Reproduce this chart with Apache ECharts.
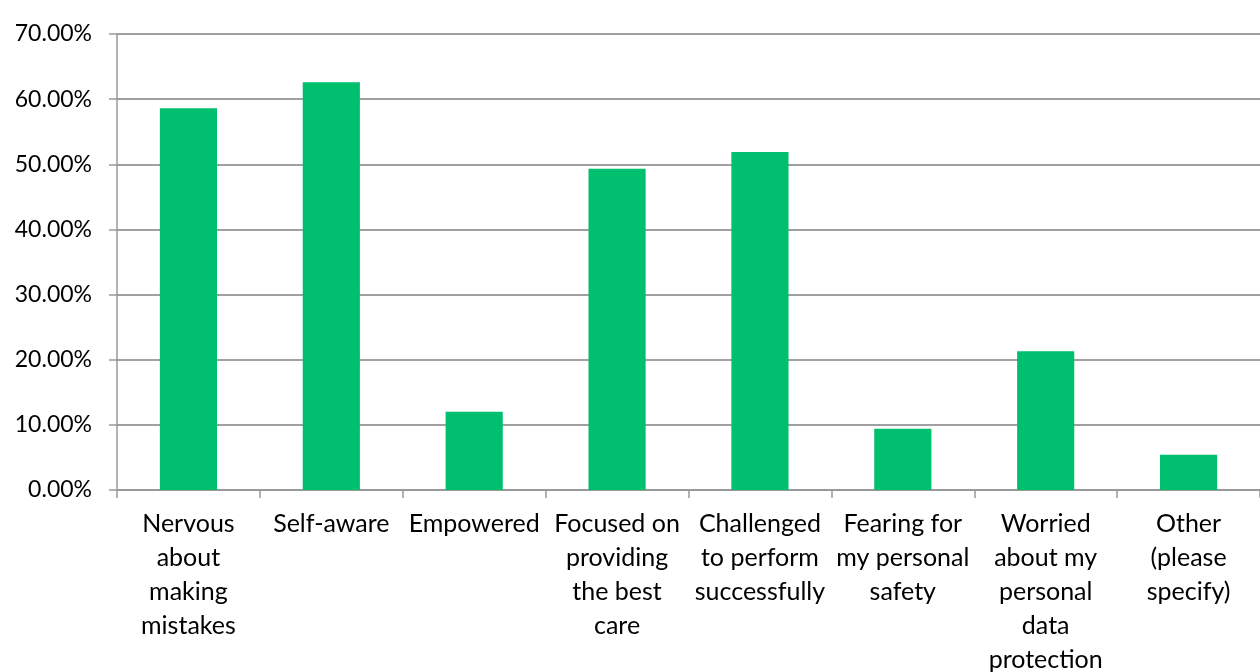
<!DOCTYPE html>
<html>
<head>
<meta charset="utf-8">
<script src="https://cdn.jsdelivr.net/npm/echarts@6/dist/echarts.min.js"></script>
<style>html,body{margin:0;padding:0;background:#fff}#c{width:1260px;height:672px}</style>
</head>
<body>
<div id="c"></div>
<script>
const categories = [
  "Nervous\nabout\nmaking\nmistakes",
  "Self-aware",
  "Empowered",
  "Focused on\nproviding\nthe best\ncare",
  "Challenged\nto perform\nsuccessfully",
  "Fearing for\nmy personal\nsafety",
  "Worried\nabout my\npersonal\ndata\nprotection",
  "Other\n(please\nspecify)"
];
const values = [0.586, 0.626, 0.120, 0.493, 0.519, 0.094, 0.213, 0.054];
const yTicks = [0, 0.1, 0.2, 0.3, 0.4, 0.5, 0.6, 0.7];

const chart = echarts.init(document.getElementById('c'), null, {renderer: 'canvas'});
const font = 'Lato, "Open Sans", sans-serif';
chart.setOption({
  animation: false,
  backgroundColor: '#ffffff',
  grid: {left: 117, right: 0, top: 34, bottom: 182, containLabel: false, outerBoundsMode: 'none'},
  xAxis: {
    type: 'category',
    data: categories,
    axisLine: {show: true, lineStyle: {color: '#999999', width: 2}},
    axisTick: {show: true, alignWithLabel: false, length: 8, lineStyle: {color: '#999999', width: 1.5}},
    axisLabel: {interval: 0, margin: 17, color: '#000', fontSize: 25, lineHeight: 34, fontFamily: font, align: 'center'}
  },
  yAxis: {
    type: 'value',
    min: yTicks[0],
    max: yTicks[yTicks.length - 1],
    interval: 0.1,
    axisLine: {show: true, lineStyle: {color: '#999999', width: 1.5}},
    axisTick: {show: true, inside: false, length: 8, lineStyle: {color: '#999999', width: 1.5}},
    splitLine: {show: true, lineStyle: {color: '#a0a0a0', width: 2}},
    axisLabel: {color: '#000', fontSize: 23, fontFamily: font, margin: 25,
      formatter: v => (v * 100).toFixed(2) + '%'}
  },
  series: [{
    type: 'bar',
    data: values,
    barCategoryGap: '60%',
    itemStyle: {color: '#00BF6F'}
  }]
});
</script>
</body>
</html>
